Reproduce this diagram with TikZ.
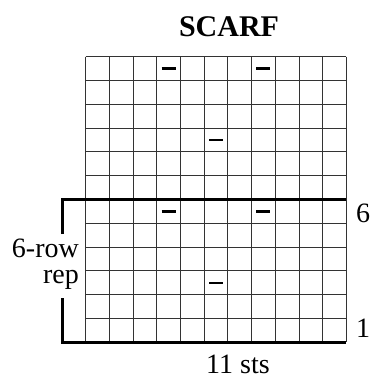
\documentclass[tikz,border=0pt]{standalone}
\usepackage{fontspec}
\setmainfont{Liberation Serif}
\begin{document}
\begin{tikzpicture}[x=1pt,y=-1pt,
  gridline/.style={black!80,line width=1pt},
  thickline/.style={black,line width=3pt},
  dashmark/.style={black,line width=2.6pt},
  lbl/.style={inner sep=0pt,font=\fontsize{28}{28}\selectfont},
  ttl/.style={inner sep=0pt,font=\fontsize{30}{30}\selectfont\bfseries}]
\useasboundingbox (0,0) rectangle (370,379);
\foreach \i in {0,...,11} \draw[gridline] ({85.7+23.7*\i},56.7) -- ({85.7+23.7*\i},342.3);
\foreach \j in {0,...,12} \draw[gridline] (85.7,{56.7+23.8*\j}) -- (346.4,{56.7+23.8*\j});
\draw[thickline] (62,234) -- (62,199.5) -- (346.4,199.5);
\draw[thickline] (62,298) -- (62,342.3) -- (346.4,342.3);
\foreach \c/\r in {3/0,7/0,5/3,3/6,7/6,5/9}
  \draw[dashmark] ({85.7+23.7*(\c+0.5)-7},{56.7+23.8*(\r+0.5)}) -- ++(14,0);
\node[ttl,anchor=base] (title) at (229,37) {SCARF};
\node[lbl,anchor=base west] (top) at (356,222) {6};
\node[lbl,anchor=base west] (bot) at (356,337) {1};
\node[lbl,anchor=base east] (rep1) at (79,257) {6-row};
\node[lbl,anchor=base east] (rep2) at (79,283) {rep};
\node[lbl,anchor=base] (sts) at (238,373) {11 sts};
\end{tikzpicture}
\end{document}
